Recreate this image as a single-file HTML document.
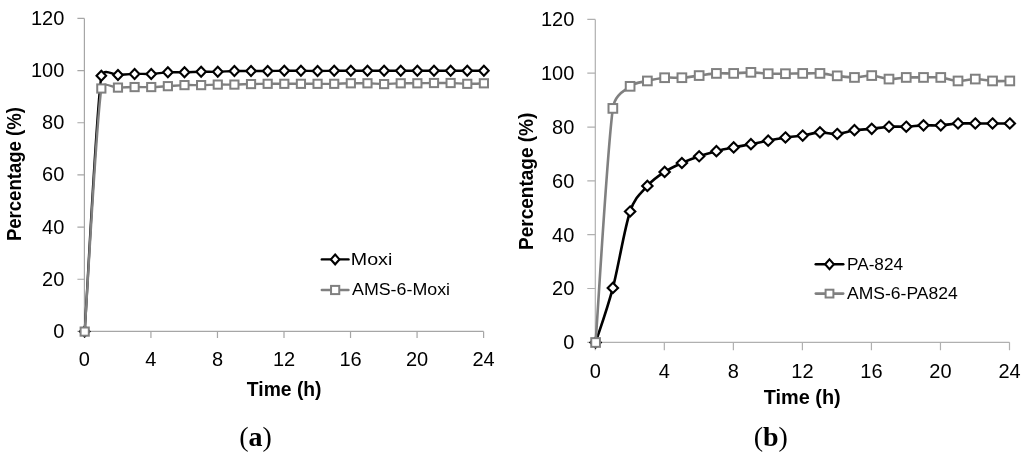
<!DOCTYPE html>
<html><head><meta charset="utf-8"><style>
html,body{margin:0;padding:0;background:#fff;width:1024px;height:455px;overflow:hidden}
svg{display:block;will-change:transform}
.tl{font-family:"Liberation Sans",sans-serif;font-size:20px;fill:#000}
.at{font-family:"Liberation Sans",sans-serif;font-size:19.5px;font-weight:bold;fill:#000}
.lg{font-family:"Liberation Sans",sans-serif;font-size:15.8px;fill:#000}
.pl{font-family:"Liberation Serif",serif;font-size:28px;fill:#000}
</style></head><body>
<svg width="1024" height="455" viewBox="0 0 1024 455">
<path d="M84.40,18.40V331.40H483.60" fill="none" stroke="#a6a6a6" stroke-width="1.2"/>
<path d="M77.40,331.40H84.40M77.40,279.23H84.40M77.40,227.07H84.40M77.40,174.90H84.40M77.40,122.73H84.40M77.40,70.57H84.40M77.40,18.40H84.40M84.40,331.40V337.90M150.93,331.40V337.90M217.47,331.40V337.90M284.00,331.40V337.90M350.53,331.40V337.90M417.07,331.40V337.90M483.60,331.40V337.90" fill="none" stroke="#a6a6a6" stroke-width="1.2"/>
<text x="64.30" y="337.90" text-anchor="end" class="tl">0</text>
<text x="64.30" y="285.73" text-anchor="end" class="tl">20</text>
<text x="64.30" y="233.57" text-anchor="end" class="tl">40</text>
<text x="64.30" y="181.40" text-anchor="end" class="tl">60</text>
<text x="64.30" y="129.23" text-anchor="end" class="tl">80</text>
<text x="64.30" y="77.07" text-anchor="end" class="tl">100</text>
<text x="64.30" y="24.90" text-anchor="end" class="tl">120</text>
<text x="84.40" y="366.20" text-anchor="middle" class="tl">0</text>
<text x="150.93" y="366.20" text-anchor="middle" class="tl">4</text>
<text x="217.47" y="366.20" text-anchor="middle" class="tl">8</text>
<text x="284.00" y="366.20" text-anchor="middle" class="tl">12</text>
<text x="350.53" y="366.20" text-anchor="middle" class="tl">16</text>
<text x="417.07" y="366.20" text-anchor="middle" class="tl">20</text>
<text x="483.60" y="366.20" text-anchor="middle" class="tl">24</text>
<path d="M84.70,331.60 C87.47,288.95 95.79,118.50 101.33,75.72 C105.13,67.72 112.42,75.24 117.97,74.94 C123.51,74.64 129.06,74.07 134.60,73.90 C140.14,73.72 145.69,74.16 151.23,73.90 C156.78,73.64 162.32,72.59 167.87,72.33 C173.41,72.07 178.96,72.42 184.50,72.33 C190.04,72.24 195.59,71.90 201.13,71.81 C206.68,71.72 212.22,71.94 217.77,71.81 C223.31,71.68 228.86,71.16 234.40,71.03 C239.94,70.90 245.49,71.03 251.03,71.03 C256.58,71.03 262.12,71.07 267.67,71.03 C273.21,70.98 278.76,70.81 284.30,70.77 C289.84,70.72 295.39,70.72 300.93,70.77 C306.48,70.81 312.02,71.03 317.57,71.03 C323.11,71.03 328.66,70.81 334.20,70.77 C339.74,70.72 345.29,70.77 350.83,70.77 C356.38,70.77 361.92,70.77 367.47,70.77 C373.01,70.77 378.56,70.77 384.10,70.77 C389.64,70.77 395.19,70.77 400.73,70.77 C406.28,70.77 411.82,70.77 417.37,70.77 C422.91,70.77 428.46,70.77 434.00,70.77 C439.54,70.77 445.09,70.77 450.63,70.77 C456.18,70.77 461.72,70.77 467.27,70.77 C472.81,70.77 481.13,70.77 483.90,70.77" fill="none" stroke="#000" stroke-width="2.4" stroke-linejoin="round"/>
<path d="M84.70,326.60L89.50,331.60L84.70,336.60L79.90,331.60Z" fill="#fff" stroke="#000" stroke-width="2.1"/>
<path d="M101.33,70.72L106.13,75.72L101.33,80.72L96.53,75.72Z" fill="#fff" stroke="#000" stroke-width="2.1"/>
<path d="M117.97,69.94L122.77,74.94L117.97,79.94L113.17,74.94Z" fill="#fff" stroke="#000" stroke-width="2.1"/>
<path d="M134.60,68.90L139.40,73.90L134.60,78.90L129.80,73.90Z" fill="#fff" stroke="#000" stroke-width="2.1"/>
<path d="M151.23,68.90L156.03,73.90L151.23,78.90L146.43,73.90Z" fill="#fff" stroke="#000" stroke-width="2.1"/>
<path d="M167.87,67.33L172.67,72.33L167.87,77.33L163.07,72.33Z" fill="#fff" stroke="#000" stroke-width="2.1"/>
<path d="M184.50,67.33L189.30,72.33L184.50,77.33L179.70,72.33Z" fill="#fff" stroke="#000" stroke-width="2.1"/>
<path d="M201.13,66.81L205.93,71.81L201.13,76.81L196.33,71.81Z" fill="#fff" stroke="#000" stroke-width="2.1"/>
<path d="M217.77,66.81L222.57,71.81L217.77,76.81L212.97,71.81Z" fill="#fff" stroke="#000" stroke-width="2.1"/>
<path d="M234.40,66.03L239.20,71.03L234.40,76.03L229.60,71.03Z" fill="#fff" stroke="#000" stroke-width="2.1"/>
<path d="M251.03,66.03L255.83,71.03L251.03,76.03L246.23,71.03Z" fill="#fff" stroke="#000" stroke-width="2.1"/>
<path d="M267.67,66.03L272.47,71.03L267.67,76.03L262.87,71.03Z" fill="#fff" stroke="#000" stroke-width="2.1"/>
<path d="M284.30,65.77L289.10,70.77L284.30,75.77L279.50,70.77Z" fill="#fff" stroke="#000" stroke-width="2.1"/>
<path d="M300.93,65.77L305.73,70.77L300.93,75.77L296.13,70.77Z" fill="#fff" stroke="#000" stroke-width="2.1"/>
<path d="M317.57,66.03L322.37,71.03L317.57,76.03L312.77,71.03Z" fill="#fff" stroke="#000" stroke-width="2.1"/>
<path d="M334.20,65.77L339.00,70.77L334.20,75.77L329.40,70.77Z" fill="#fff" stroke="#000" stroke-width="2.1"/>
<path d="M350.83,65.77L355.63,70.77L350.83,75.77L346.03,70.77Z" fill="#fff" stroke="#000" stroke-width="2.1"/>
<path d="M367.47,65.77L372.27,70.77L367.47,75.77L362.67,70.77Z" fill="#fff" stroke="#000" stroke-width="2.1"/>
<path d="M384.10,65.77L388.90,70.77L384.10,75.77L379.30,70.77Z" fill="#fff" stroke="#000" stroke-width="2.1"/>
<path d="M400.73,65.77L405.53,70.77L400.73,75.77L395.93,70.77Z" fill="#fff" stroke="#000" stroke-width="2.1"/>
<path d="M417.37,65.77L422.17,70.77L417.37,75.77L412.57,70.77Z" fill="#fff" stroke="#000" stroke-width="2.1"/>
<path d="M434.00,65.77L438.80,70.77L434.00,75.77L429.20,70.77Z" fill="#fff" stroke="#000" stroke-width="2.1"/>
<path d="M450.63,65.77L455.43,70.77L450.63,75.77L445.83,70.77Z" fill="#fff" stroke="#000" stroke-width="2.1"/>
<path d="M467.27,65.77L472.07,70.77L467.27,75.77L462.47,70.77Z" fill="#fff" stroke="#000" stroke-width="2.1"/>
<path d="M483.90,65.77L488.70,70.77L483.90,75.77L479.10,70.77Z" fill="#fff" stroke="#000" stroke-width="2.1"/>
<path d="M84.70,331.60 C87.47,291.08 95.79,129.17 101.33,88.50 C102.46,80.25 112.42,87.83 117.97,87.59 C123.51,87.35 129.06,87.16 134.60,87.07 C140.14,86.98 145.69,87.22 151.23,87.07 C156.78,86.92 162.32,86.48 167.87,86.16 C173.41,85.83 178.96,85.29 184.50,85.11 C190.04,84.94 195.59,85.20 201.13,85.11 C206.68,85.03 212.22,84.68 217.77,84.59 C223.31,84.50 228.86,84.68 234.40,84.59 C239.94,84.50 245.49,84.20 251.03,84.07 C256.58,83.94 262.12,83.85 267.67,83.81 C273.21,83.76 278.76,83.81 284.30,83.81 C289.84,83.81 295.39,83.81 300.93,83.81 C306.48,83.81 312.02,83.81 317.57,83.81 C323.11,83.81 328.66,83.90 334.20,83.81 C339.74,83.72 345.29,83.37 350.83,83.29 C356.38,83.20 361.92,83.16 367.47,83.29 C373.01,83.42 378.56,84.07 384.10,84.07 C389.64,84.07 395.19,83.42 400.73,83.29 C406.28,83.16 411.82,83.33 417.37,83.29 C422.91,83.24 428.46,83.07 434.00,83.03 C439.54,82.98 445.09,82.90 450.63,83.03 C456.18,83.16 461.72,83.76 467.27,83.81 C472.81,83.85 481.13,83.37 483.90,83.29" fill="none" stroke="#808080" stroke-width="2.4" stroke-linejoin="round"/>
<rect x="80.60" y="327.50" width="8.20" height="8.20" fill="#fff" stroke="#808080" stroke-width="2.0"/>
<rect x="97.23" y="84.40" width="8.20" height="8.20" fill="#fff" stroke="#808080" stroke-width="2.0"/>
<rect x="113.87" y="83.49" width="8.20" height="8.20" fill="#fff" stroke="#808080" stroke-width="2.0"/>
<rect x="130.50" y="82.97" width="8.20" height="8.20" fill="#fff" stroke="#808080" stroke-width="2.0"/>
<rect x="147.13" y="82.97" width="8.20" height="8.20" fill="#fff" stroke="#808080" stroke-width="2.0"/>
<rect x="163.77" y="82.06" width="8.20" height="8.20" fill="#fff" stroke="#808080" stroke-width="2.0"/>
<rect x="180.40" y="81.01" width="8.20" height="8.20" fill="#fff" stroke="#808080" stroke-width="2.0"/>
<rect x="197.03" y="81.01" width="8.20" height="8.20" fill="#fff" stroke="#808080" stroke-width="2.0"/>
<rect x="213.67" y="80.49" width="8.20" height="8.20" fill="#fff" stroke="#808080" stroke-width="2.0"/>
<rect x="230.30" y="80.49" width="8.20" height="8.20" fill="#fff" stroke="#808080" stroke-width="2.0"/>
<rect x="246.93" y="79.97" width="8.20" height="8.20" fill="#fff" stroke="#808080" stroke-width="2.0"/>
<rect x="263.57" y="79.71" width="8.20" height="8.20" fill="#fff" stroke="#808080" stroke-width="2.0"/>
<rect x="280.20" y="79.71" width="8.20" height="8.20" fill="#fff" stroke="#808080" stroke-width="2.0"/>
<rect x="296.83" y="79.71" width="8.20" height="8.20" fill="#fff" stroke="#808080" stroke-width="2.0"/>
<rect x="313.47" y="79.71" width="8.20" height="8.20" fill="#fff" stroke="#808080" stroke-width="2.0"/>
<rect x="330.10" y="79.71" width="8.20" height="8.20" fill="#fff" stroke="#808080" stroke-width="2.0"/>
<rect x="346.73" y="79.19" width="8.20" height="8.20" fill="#fff" stroke="#808080" stroke-width="2.0"/>
<rect x="363.37" y="79.19" width="8.20" height="8.20" fill="#fff" stroke="#808080" stroke-width="2.0"/>
<rect x="380.00" y="79.97" width="8.20" height="8.20" fill="#fff" stroke="#808080" stroke-width="2.0"/>
<rect x="396.63" y="79.19" width="8.20" height="8.20" fill="#fff" stroke="#808080" stroke-width="2.0"/>
<rect x="413.27" y="79.19" width="8.20" height="8.20" fill="#fff" stroke="#808080" stroke-width="2.0"/>
<rect x="429.90" y="78.93" width="8.20" height="8.20" fill="#fff" stroke="#808080" stroke-width="2.0"/>
<rect x="446.53" y="78.93" width="8.20" height="8.20" fill="#fff" stroke="#808080" stroke-width="2.0"/>
<rect x="463.17" y="79.71" width="8.20" height="8.20" fill="#fff" stroke="#808080" stroke-width="2.0"/>
<rect x="479.80" y="79.19" width="8.20" height="8.20" fill="#fff" stroke="#808080" stroke-width="2.0"/>
<path d="M595.30,19.40V342.30H1009.50" fill="none" stroke="#b0b0b0" stroke-width="1.2"/>
<path d="M587.30,342.30H595.30M587.30,288.48H595.30M587.30,234.67H595.30M587.30,180.85H595.30M587.30,127.03H595.30M587.30,73.22H595.30M587.30,19.40H595.30M595.30,342.30V350.30M664.33,342.30V350.30M733.37,342.30V350.30M802.40,342.30V350.30M871.43,342.30V350.30M940.47,342.30V350.30M1009.50,342.30V350.30" fill="none" stroke="#b0b0b0" stroke-width="1.2"/>
<text x="574.30" y="349.30" text-anchor="end" class="tl">0</text>
<text x="574.30" y="295.48" text-anchor="end" class="tl">20</text>
<text x="574.30" y="241.67" text-anchor="end" class="tl">40</text>
<text x="574.30" y="187.85" text-anchor="end" class="tl">60</text>
<text x="574.30" y="134.03" text-anchor="end" class="tl">80</text>
<text x="574.30" y="80.22" text-anchor="end" class="tl">100</text>
<text x="574.30" y="26.40" text-anchor="end" class="tl">120</text>
<text x="595.30" y="377.80" text-anchor="middle" class="tl">0</text>
<text x="664.33" y="377.80" text-anchor="middle" class="tl">4</text>
<text x="733.37" y="377.80" text-anchor="middle" class="tl">8</text>
<text x="802.40" y="377.80" text-anchor="middle" class="tl">12</text>
<text x="871.43" y="377.80" text-anchor="middle" class="tl">16</text>
<text x="940.47" y="377.80" text-anchor="middle" class="tl">20</text>
<text x="1009.50" y="377.80" text-anchor="middle" class="tl">24</text>
<path d="M595.60,342.50 C598.48,333.40 607.11,309.72 612.86,287.88 C618.61,266.04 624.36,228.45 630.12,211.46 C635.06,196.85 641.62,192.49 647.37,185.89 C653.13,179.30 658.88,175.71 664.63,171.90 C670.39,168.09 676.14,165.62 681.89,163.02 C687.64,160.42 693.40,158.27 699.15,156.29 C704.90,154.32 710.66,152.66 716.41,151.18 C722.16,149.70 727.91,148.58 733.67,147.41 C739.42,146.25 745.17,145.31 750.92,144.19 C756.68,143.06 762.43,141.81 768.18,140.69 C773.94,139.57 779.69,138.31 785.44,137.46 C791.19,136.61 796.95,136.43 802.70,135.57 C808.45,134.72 814.21,132.61 819.96,132.35 C825.71,132.08 831.46,134.32 837.22,133.96 C842.97,133.60 848.72,131.05 854.47,130.19 C860.23,129.34 865.98,129.43 871.73,128.85 C877.49,128.26 883.24,127.05 888.99,126.70 C894.74,126.34 900.50,126.92 906.25,126.70 C912.00,126.47 917.76,125.57 923.51,125.35 C929.26,125.13 935.01,125.66 940.77,125.35 C946.52,125.04 952.27,123.78 958.02,123.47 C963.78,123.15 969.53,123.47 975.28,123.47 C981.04,123.47 986.79,123.47 992.54,123.47 C998.29,123.47 1006.92,123.47 1009.80,123.47" fill="none" stroke="#000" stroke-width="2.6" stroke-linejoin="round"/>
<path d="M595.60,337.40L600.80,342.50L595.60,347.60L590.40,342.50Z" fill="#fff" stroke="#000" stroke-width="2.1"/>
<path d="M612.86,282.78L618.06,287.88L612.86,292.98L607.66,287.88Z" fill="#fff" stroke="#000" stroke-width="2.1"/>
<path d="M630.12,206.36L635.32,211.46L630.12,216.56L624.92,211.46Z" fill="#fff" stroke="#000" stroke-width="2.1"/>
<path d="M647.37,180.79L652.57,185.89L647.37,190.99L642.17,185.89Z" fill="#fff" stroke="#000" stroke-width="2.1"/>
<path d="M664.63,166.80L669.83,171.90L664.63,177.00L659.43,171.90Z" fill="#fff" stroke="#000" stroke-width="2.1"/>
<path d="M681.89,157.92L687.09,163.02L681.89,168.12L676.69,163.02Z" fill="#fff" stroke="#000" stroke-width="2.1"/>
<path d="M699.15,151.19L704.35,156.29L699.15,161.39L693.95,156.29Z" fill="#fff" stroke="#000" stroke-width="2.1"/>
<path d="M716.41,146.08L721.61,151.18L716.41,156.28L711.21,151.18Z" fill="#fff" stroke="#000" stroke-width="2.1"/>
<path d="M733.67,142.31L738.87,147.41L733.67,152.51L728.47,147.41Z" fill="#fff" stroke="#000" stroke-width="2.1"/>
<path d="M750.92,139.09L756.12,144.19L750.92,149.29L745.72,144.19Z" fill="#fff" stroke="#000" stroke-width="2.1"/>
<path d="M768.18,135.59L773.38,140.69L768.18,145.79L762.98,140.69Z" fill="#fff" stroke="#000" stroke-width="2.1"/>
<path d="M785.44,132.36L790.64,137.46L785.44,142.56L780.24,137.46Z" fill="#fff" stroke="#000" stroke-width="2.1"/>
<path d="M802.70,130.47L807.90,135.57L802.70,140.67L797.50,135.57Z" fill="#fff" stroke="#000" stroke-width="2.1"/>
<path d="M819.96,127.25L825.16,132.35L819.96,137.45L814.76,132.35Z" fill="#fff" stroke="#000" stroke-width="2.1"/>
<path d="M837.22,128.86L842.42,133.96L837.22,139.06L832.02,133.96Z" fill="#fff" stroke="#000" stroke-width="2.1"/>
<path d="M854.47,125.09L859.67,130.19L854.47,135.29L849.27,130.19Z" fill="#fff" stroke="#000" stroke-width="2.1"/>
<path d="M871.73,123.75L876.93,128.85L871.73,133.95L866.53,128.85Z" fill="#fff" stroke="#000" stroke-width="2.1"/>
<path d="M888.99,121.60L894.19,126.70L888.99,131.80L883.79,126.70Z" fill="#fff" stroke="#000" stroke-width="2.1"/>
<path d="M906.25,121.60L911.45,126.70L906.25,131.80L901.05,126.70Z" fill="#fff" stroke="#000" stroke-width="2.1"/>
<path d="M923.51,120.25L928.71,125.35L923.51,130.45L918.31,125.35Z" fill="#fff" stroke="#000" stroke-width="2.1"/>
<path d="M940.77,120.25L945.97,125.35L940.77,130.45L935.57,125.35Z" fill="#fff" stroke="#000" stroke-width="2.1"/>
<path d="M958.02,118.37L963.22,123.47L958.02,128.57L952.82,123.47Z" fill="#fff" stroke="#000" stroke-width="2.1"/>
<path d="M975.28,118.37L980.48,123.47L975.28,128.57L970.08,123.47Z" fill="#fff" stroke="#000" stroke-width="2.1"/>
<path d="M992.54,118.37L997.74,123.47L992.54,128.57L987.34,123.47Z" fill="#fff" stroke="#000" stroke-width="2.1"/>
<path d="M1009.80,118.37L1015.00,123.47L1009.80,128.57L1004.60,123.47Z" fill="#fff" stroke="#000" stroke-width="2.1"/>
<path d="M595.60,342.50 C598.48,303.48 607.11,151.09 612.86,108.40 C614.73,94.52 624.36,90.91 630.12,86.33 C635.87,81.76 641.62,82.39 647.37,80.95 C653.13,79.52 658.88,78.26 664.63,77.72 C670.39,77.18 676.14,78.08 681.89,77.72 C687.64,77.36 693.40,76.29 699.15,75.57 C704.90,74.85 710.66,73.78 716.41,73.42 C722.16,73.06 727.91,73.60 733.67,73.42 C739.42,73.24 745.17,72.30 750.92,72.34 C756.68,72.39 762.43,73.46 768.18,73.69 C773.94,73.91 779.69,73.73 785.44,73.69 C791.19,73.64 796.95,73.46 802.70,73.42 C808.45,73.37 814.21,73.01 819.96,73.42 C825.71,73.82 831.46,75.17 837.22,75.84 C842.97,76.51 848.72,77.50 854.47,77.45 C860.23,77.41 865.98,75.30 871.73,75.57 C877.49,75.84 883.24,78.75 888.99,79.07 C894.74,79.38 900.50,77.72 906.25,77.45 C912.00,77.18 917.76,77.45 923.51,77.45 C929.26,77.45 935.01,76.87 940.77,77.45 C946.52,78.04 952.27,80.68 958.02,80.95 C963.78,81.22 969.53,79.07 975.28,79.07 C981.04,79.07 986.79,80.64 992.54,80.95 C998.29,81.26 1006.92,80.95 1009.80,80.95" fill="none" stroke="#808080" stroke-width="2.6" stroke-linejoin="round"/>
<rect x="591.25" y="338.15" width="8.70" height="8.70" fill="#fff" stroke="#808080" stroke-width="2.0"/>
<rect x="608.51" y="104.05" width="8.70" height="8.70" fill="#fff" stroke="#808080" stroke-width="2.0"/>
<rect x="625.77" y="81.98" width="8.70" height="8.70" fill="#fff" stroke="#808080" stroke-width="2.0"/>
<rect x="643.02" y="76.60" width="8.70" height="8.70" fill="#fff" stroke="#808080" stroke-width="2.0"/>
<rect x="660.28" y="73.37" width="8.70" height="8.70" fill="#fff" stroke="#808080" stroke-width="2.0"/>
<rect x="677.54" y="73.37" width="8.70" height="8.70" fill="#fff" stroke="#808080" stroke-width="2.0"/>
<rect x="694.80" y="71.22" width="8.70" height="8.70" fill="#fff" stroke="#808080" stroke-width="2.0"/>
<rect x="712.06" y="69.07" width="8.70" height="8.70" fill="#fff" stroke="#808080" stroke-width="2.0"/>
<rect x="729.32" y="69.07" width="8.70" height="8.70" fill="#fff" stroke="#808080" stroke-width="2.0"/>
<rect x="746.57" y="67.99" width="8.70" height="8.70" fill="#fff" stroke="#808080" stroke-width="2.0"/>
<rect x="763.83" y="69.34" width="8.70" height="8.70" fill="#fff" stroke="#808080" stroke-width="2.0"/>
<rect x="781.09" y="69.34" width="8.70" height="8.70" fill="#fff" stroke="#808080" stroke-width="2.0"/>
<rect x="798.35" y="69.07" width="8.70" height="8.70" fill="#fff" stroke="#808080" stroke-width="2.0"/>
<rect x="815.61" y="69.07" width="8.70" height="8.70" fill="#fff" stroke="#808080" stroke-width="2.0"/>
<rect x="832.87" y="71.49" width="8.70" height="8.70" fill="#fff" stroke="#808080" stroke-width="2.0"/>
<rect x="850.12" y="73.10" width="8.70" height="8.70" fill="#fff" stroke="#808080" stroke-width="2.0"/>
<rect x="867.38" y="71.22" width="8.70" height="8.70" fill="#fff" stroke="#808080" stroke-width="2.0"/>
<rect x="884.64" y="74.72" width="8.70" height="8.70" fill="#fff" stroke="#808080" stroke-width="2.0"/>
<rect x="901.90" y="73.10" width="8.70" height="8.70" fill="#fff" stroke="#808080" stroke-width="2.0"/>
<rect x="919.16" y="73.10" width="8.70" height="8.70" fill="#fff" stroke="#808080" stroke-width="2.0"/>
<rect x="936.42" y="73.10" width="8.70" height="8.70" fill="#fff" stroke="#808080" stroke-width="2.0"/>
<rect x="953.67" y="76.60" width="8.70" height="8.70" fill="#fff" stroke="#808080" stroke-width="2.0"/>
<rect x="970.93" y="74.72" width="8.70" height="8.70" fill="#fff" stroke="#808080" stroke-width="2.0"/>
<rect x="988.19" y="76.60" width="8.70" height="8.70" fill="#fff" stroke="#808080" stroke-width="2.0"/>
<rect x="1005.45" y="76.60" width="8.70" height="8.70" fill="#fff" stroke="#808080" stroke-width="2.0"/>
<path d="M321.80,259.40H348.50" stroke="#000" stroke-width="2.4" stroke-linecap="round"/>
<path d="M335.15,254.50L339.45,259.40L335.15,264.30L330.85,259.40Z" fill="#fff" stroke="#000" stroke-width="2.1"/>
<text x="350.80" y="264.60" class="lg" textLength="41.5" lengthAdjust="spacingAndGlyphs">Moxi</text>
<path d="M321.80,290.00H348.50" stroke="#808080" stroke-width="2.4" stroke-linecap="round"/>
<rect x="331.05" y="285.90" width="8.20" height="8.20" fill="#fff" stroke="#808080" stroke-width="2.0"/>
<text x="352.00" y="295.30" class="lg" textLength="98" lengthAdjust="spacingAndGlyphs">AMS-6-Moxi</text>
<path d="M815.80,264.30H843.20" stroke="#000" stroke-width="2.6" stroke-linecap="round"/>
<path d="M829.50,259.40L833.90,264.30L829.50,269.20L825.10,264.30Z" fill="#fff" stroke="#000" stroke-width="2.1"/>
<text x="847.00" y="269.70" class="lg" textLength="56" lengthAdjust="spacingAndGlyphs">PA-824</text>
<path d="M815.80,293.60H843.20" stroke="#808080" stroke-width="2.6" stroke-linecap="round"/>
<rect x="825.60" y="289.70" width="7.80" height="7.80" fill="#fff" stroke="#808080" stroke-width="2.0"/>
<text x="847.00" y="299.20" class="lg" textLength="110.7" lengthAdjust="spacingAndGlyphs">AMS-6-PA824</text>
<text class="at" transform="translate(20.5,174.1) rotate(-90)" text-anchor="middle" textLength="134" lengthAdjust="spacingAndGlyphs">Percentage (%)</text>
<text class="at" transform="translate(533.4,181.3) rotate(-90)" text-anchor="middle" textLength="137.3" lengthAdjust="spacingAndGlyphs">Percentage (%)</text>
<text class="at" x="284.2" y="396" text-anchor="middle" textLength="74.7" lengthAdjust="spacingAndGlyphs">Time (h)</text>
<text class="at" x="802.2" y="404.1" text-anchor="middle" textLength="77" lengthAdjust="spacingAndGlyphs">Time (h)</text>
<text class="pl" x="255.5" y="445.5" text-anchor="middle">(<tspan font-weight="bold">a</tspan>)</text>
<text class="pl" x="770.8" y="445.5" text-anchor="middle">(<tspan font-weight="bold">b</tspan>)</text>
</svg>
</body></html>
